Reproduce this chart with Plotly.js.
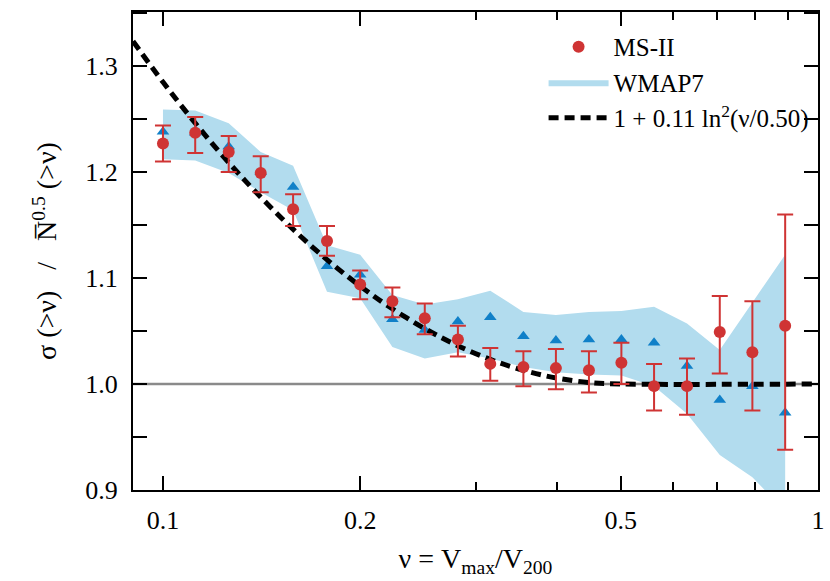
<!DOCTYPE html>
<html>
<head>
<meta charset="utf-8">
<script src="https://cdn.plot.ly/plotly-3.0.1.min.js"></script>
<style>
  html, body { margin: 0; padding: 0; background: #fff; }
  #chart { width: 830px; height: 581px; }
</style>
</head>
<body>
<div id="chart"></div>
<script>
'use strict'

// bins in nu = Vmax/V200 (0.05 dex apart)
const nu = [0.100, 0.112, 0.126, 0.141, 0.158, 0.178, 0.200, 0.224, 0.251, 0.282,
            0.316, 0.355, 0.398, 0.447, 0.501, 0.562, 0.631, 0.708, 0.794, 0.891]

// MS-II points with asymmetric errors
const msVal  = [1.227, 1.237, 1.219, 1.199, 1.165, 1.135, 1.094, 1.078, 1.062, 1.042,
                1.019, 1.016, 1.015, 1.013, 1.020, 0.998, 0.998, 1.049, 1.030, 1.055]
const msUp   = [0.017, 0.015, 0.015, 0.016, 0.014, 0.014, 0.013, 0.013, 0.014, 0.013,
                0.015, 0.015, 0.018, 0.018, 0.019, 0.021, 0.026, 0.034, 0.048, 0.105]
const msDown = [0.017, 0.019, 0.019, 0.018, 0.016, 0.014, 0.014, 0.015, 0.015, 0.016,
                0.016, 0.018, 0.020, 0.021, 0.020, 0.023, 0.027, 0.039, 0.055, 0.117]

// WMAP7 points and shaded range
const wmVal   = [1.238, 1.237, 1.224, 1.200, 1.186, 1.111, 1.103, 1.061, 1.051, 1.059,
                 1.063, 1.045, 1.041, 1.042, 1.042, 1.039, 1.017, 0.985, 0.998, 0.973]
const wmUpper = [1.259, 1.258, 1.246, 1.219, 1.206, 1.131, 1.122, 1.084, 1.075, 1.080,
                 1.088, 1.068, 1.065, 1.068, 1.069, 1.073, 1.057, 1.032, 1.077, 1.122]
const wmLower = [1.212, 1.211, 1.199, 1.181, 1.164, 1.087, 1.081, 1.035, 1.024, 1.030,
                 1.024, 1.016, 1.011, 1.009, 1.008, 0.998, 0.972, 0.933, 0.912, 0.880]

// fit curve 1 + 0.11 ln^2(nu/0.50), flat beyond 0.5
const fitNu  = [0.09, 0.10, 0.11, 0.12, 0.13, 0.14, 0.16, 0.18, 0.20, 0.22, 0.25,
                0.28, 0.32, 0.36, 0.40, 0.45, 0.50, 1.00]
const fitVal = [1.3234, 1.2849, 1.2522, 1.2240, 1.1996, 1.1783, 1.1428, 1.1148, 1.0924,
                1.0741, 1.0529, 1.0370, 1.0219, 1.0119, 1.0055, 1.0012, 1.0000, 1.0000]

const xTicks = [0.1, 0.2, 0.5, 1]
const xMinor = [0.3, 0.4, 0.6, 0.7, 0.8, 0.9]
const yTicks = [0.9, 1.0, 1.1, 1.2, 1.3]

///////////////////////////////////////////////////////

const RED = '#cf3434'
const BLUE = '#1080c8'
const BAND = '#b2dcee'
const FONT = 'Liberation Serif'
const txt = { family: FONT, size: 26, color: '#000' }
const ttl = { family: FONT, size: 28, color: '#000' }
const sp = '\u00a0\u00a0\u00a0'

let band = {
  x: nu.concat(nu.slice().reverse()),
  y: wmUpper.concat(wmLower.slice().reverse()),
  fill: 'toself',
  fillcolor: BAND,
  line: { width: 0, color: BAND },
  mode: 'lines',
  name: 'WMAP7',
  legendgroup: 'wm',
  legendrank: 2,
  hoverinfo: 'skip',
  type: 'scatter'
}

let wmPoints = {
  x: nu,
  y: wmVal,
  mode: 'markers',
  marker: { symbol: 'triangle-up', size: 11, color: BLUE },
  legendgroup: 'wm',
  showlegend: false,
  type: 'scatter'
}

let fit = {
  x: fitNu,
  y: fitVal,
  mode: 'lines',
  line: { color: '#000', width: 5, dash: '10px,6px', shape: 'spline' },
  name: '1 + 0.11 ln<sup>2</sup>(ν/0.50)',
  legendrank: 3,
  type: 'scatter'
}

let ms = {
  x: nu,
  y: msVal,
  mode: 'markers',
  marker: { symbol: 'circle', size: 12, color: RED },
  error_y: {
    type: 'data',
    symmetric: false,
    array: msUp,
    arrayminus: msDown,
    color: RED,
    thickness: 2,
    width: 8
  },
  name: 'MS-II',
  legendrank: 1,
  type: 'scatter'
}

let layout = {
  width: 830,
  height: 581,
  margin: { l: 133, r: 12, t: 12, b: 91 },
  paper_bgcolor: '#fff',
  plot_bgcolor: '#fff',
  font: txt,
  showlegend: true,
  legend: {
    x: 0.995, y: 0.975, xanchor: 'right', yanchor: 'top',
    bgcolor: 'rgba(0,0,0,0)',
    font: { family: FONT, size: 25, color: '#000' },
    tracegroupgap: 0,
    itemwidth: 60
  },
  xaxis: {
    type: 'log',
    range: [Math.log10(0.09), 0],
    tickvals: xTicks,
    ticktext: xTicks.map(String),
    tickfont: txt,
    ticks: 'inside',
    ticklen: 14,
    tickwidth: 2,
    tickcolor: '#000',
    minor: { tickvals: xMinor, ticks: 'inside', ticklen: 8, tickwidth: 2, tickcolor: '#000' },
    showline: true,
    linecolor: '#000',
    linewidth: 2,
    mirror: 'ticks',
    showgrid: false,
    zeroline: false,
    ticklabelstandoff: 6,
    title: { text: 'ν = V<sub>max</sub>/V<sub>200</sub>', standoff: 14, font: ttl }
  },
  yaxis: {
    range: [0.9, 1.351],
    tickvals: yTicks,
    ticktext: yTicks.map(v => v.toFixed(1)),
    tickfont: txt,
    ticks: 'inside',
    ticklen: 14,
    tickwidth: 2,
    tickcolor: '#000',
    minor: { dtick: 0.05, tick0: 0.9, ticks: 'inside', ticklen: 14, tickwidth: 2, tickcolor: '#000' },
    showline: true,
    linecolor: '#000',
    linewidth: 2,
    mirror: 'ticks',
    showgrid: false,
    zeroline: false,
    ticklabelstandoff: 8,
    title: { text: 'σ (>ν)' + sp + '/' + sp + 'N\u0305<sup>0.5</sup> (>ν)', standoff: 20, font: ttl }
  },
  shapes: [{
    type: 'line', xref: 'paper', x0: 0, x1: 1, yref: 'y', y0: 1, y1: 1,
    line: { color: '#8a8a8a', width: 2.5 }, layer: 'below'
  }]
}

Plotly.newPlot('chart', [band, wmPoints, fit, ms], layout, { displayModeBar: false, staticPlot: true })
</script>
</body>
</html>
